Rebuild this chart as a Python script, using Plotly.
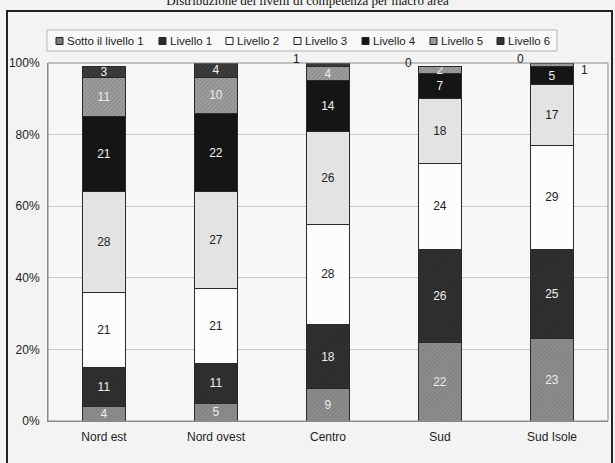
import plotly.graph_objects as go

# Macro areas and share of students (%) at each proficiency level
areas = ["Nord est", "Nord ovest", "Centro", "Sud", "Sud Isole"]
levels = ["Sotto il livello 1", "Livello 1", "Livello 2", "Livello 3",
          "Livello 4", "Livello 5", "Livello 6"]

sotto_l1 = [4, 5, 9, 22, 23]
livello_1 = [11, 11, 18, 26, 25]
livello_2 = [21, 21, 28, 24, 29]
livello_3 = [28, 27, 26, 18, 17]
livello_4 = [21, 22, 14, 7, 5]
livello_5 = [11, 10, 4, 2, 1]
livello_6 = [3, 4, 1, 0, 0]

y_ticks = [0, 20, 40, 60, 80, 100]
y_tick_text = ["0%", "20%", "40%", "60%", "80%", "100%"]

series = [sotto_l1, livello_1, livello_2, livello_3, livello_4, livello_5, livello_6]

fills = ["#8d8d8d", "#2c2c2c", "#fbfbfb", "#e3e3e3", "#151515", "#9c9c9c", "#363636"]
label_colors = ["#ececec", "#f0f0f0", "#222222", "#222222", "#f2f2f2", "#ececec", "#f0f0f0"]
patterned = [True, True, False, False, False, True, True]
swatch = ["#7a7a7a", "#2a2a2a", "#ffffff", "#f4f4f4", "#151515", "#9a9a9a", "#333333"]

W, H = 615, 463
L, R, T, B = 48, 7, 63, 42
pw, ph = W - L - R, H - T - B


def px(x):
    return (x - L) / pw


def py(y):
    return (H - B - y) / ph


FONT = "Liberation Sans, Arial"

fig = go.Figure()
for name, vals, fill, tcol, pat in zip(levels, series, fills, label_colors, patterned):
    marker = dict(color=fill, line=dict(color="#2a2a2a", width=1))
    if pat:
        marker["pattern"] = dict(shape="/", size=3, solidity=0.25,
                                 fgcolor="#5a5a5a" if fill != "#2c2c2c" else "#444444",
                                 fillmode="overlay")
    fig.add_trace(go.Bar(
        name=name, x=areas, y=vals,
        text=[str(v) if v >= 2 else "" for v in vals],
        textposition="inside", insidetextanchor="middle",
        textfont=dict(family=FONT, size=12, color=tcol),
        textangle=0, showlegend=False,
        marker=marker, width=0.39,
    ))

# Small values shown beside the top of each bar
annotations = []
for area, v5, v6, *rest in zip(areas, livello_5, livello_6, sotto_l1, livello_1,
                               livello_2, livello_3, livello_4):
    top = sum(rest) + v5 + v6
    if v6 < 2:
        annotations.append(dict(x=area, y=top, text=str(v6), showarrow=False,
                                xshift=-32, yshift=4,
                                font=dict(family=FONT, size=12, color="#222")))
    if v5 < 2:
        annotations.append(dict(x=area, y=top - v6 - v5 / 2, text=str(v5), showarrow=False,
                                xshift=32, yshift=-5,
                                font=dict(family=FONT, size=12, color="#222")))

shapes = [
    # plot frame
    dict(type="rect", xref="paper", yref="paper", x0=0, x1=1, y0=0, y1=1,
         line=dict(color="#8a8a8a", width=1), layer="above"),
    # outer page frame
    dict(type="rect", xref="paper", yref="paper",
         x0=px(7), x1=px(612), y0=py(480), y1=py(11),
         line=dict(color="#222222", width=2)),
    # legend box
    dict(type="rect", xref="paper", yref="paper",
         x0=px(47), x1=px(557), y0=py(51), y1=py(30),
         line=dict(color="#b5b5b5", width=1), fillcolor="#f8f8f8"),
]

# Legend entries: swatch + label
legend_x = [56, 159, 226, 294, 362, 430, 497]
legend_y = 41
for lx, name, col in zip(legend_x, levels, swatch):
    shapes.append(dict(type="rect", xref="paper", yref="paper",
                       x0=px(lx), x1=px(lx + 7), y0=py(legend_y + 3.5), y1=py(legend_y - 3.5),
                       line=dict(color="#222", width=1), fillcolor=col))
    annotations.append(dict(xref="paper", yref="paper", x=px(lx + 9), y=py(legend_y),
                            xanchor="left", yanchor="middle", text=name, showarrow=False,
                            font=dict(family=FONT, size=11.5, color="#222")))

fig.update_layout(
    width=W, height=H,
    margin=dict(l=L, r=R, t=T, b=B),
    barmode="stack",
    paper_bgcolor="#f3f3f3", plot_bgcolor="#f6f6f6",
    title=dict(text="Distribuzione dei livelli di competenza per macro area",
               x=0.5, xanchor="center", y=1.0, yref="container", yanchor="middle",
               font=dict(family="Liberation Serif, Times New Roman", size=13, color="#111")),
    font=dict(family=FONT, size=12, color="#222"),
    uniformtext=dict(minsize=12, mode="show"),
    showlegend=False,
    annotations=annotations,
    shapes=shapes,
    xaxis=dict(showgrid=False, showline=True, linecolor="#8a8a8a",
               tickfont=dict(size=12, color="#222"), ticks="outside",
               ticklen=5, tickcolor="rgba(0,0,0,0)"),
    yaxis=dict(range=[0, 100], tickvals=y_ticks, ticktext=y_tick_text,
               showgrid=True, gridcolor="#c9c9c9", gridwidth=1,
               zeroline=False, showline=True, linecolor="#8a8a8a",
               tickfont=dict(size=12, color="#222"), ticks="outside",
               ticklen=5, tickcolor="rgba(0,0,0,0)"),
)

fig.write_html("out.html")
